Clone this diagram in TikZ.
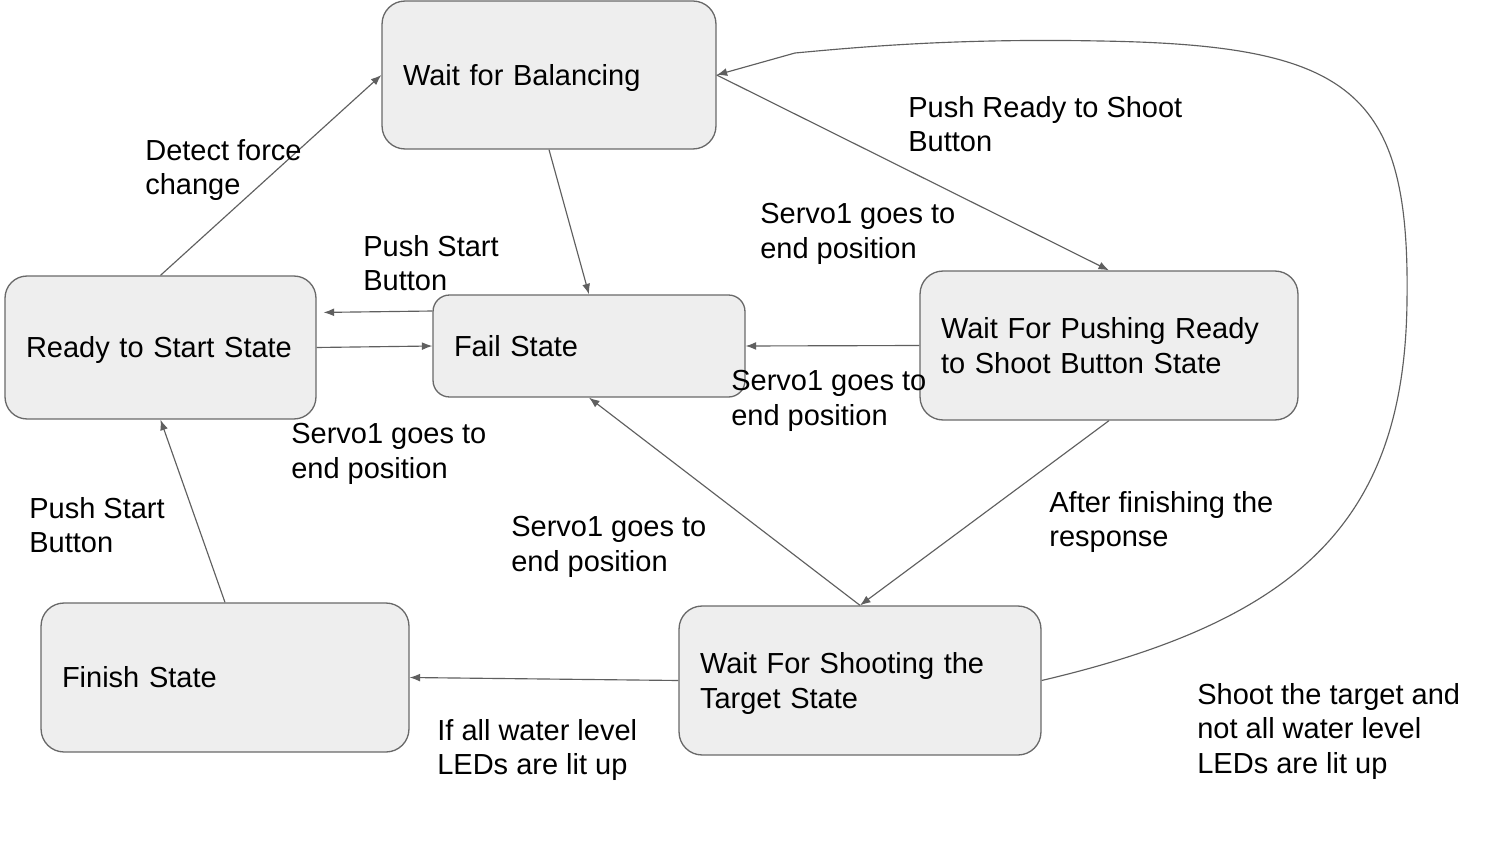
\documentclass[tikz,border=0pt]{standalone}
\usepackage{fontspec}
\setmainfont{Liberation Sans}
\usetikzlibrary{arrows.meta}
\definecolor{boxfill}{RGB}{238,238,238}
\definecolor{boxline}{RGB}{105,105,105}
\definecolor{arrline}{RGB}{95,95,95}
\newcommand\dfont{\fontsize{16.5pt}{19.6pt}\selectfont}
\newcommand\tstrut{\rule{0pt}{15.5pt}}
\newcommand\bstrut{\rule[-3.7pt]{0pt}{0pt}}
\begin{document}
\begin{tikzpicture}[x=0.02cm,y=-0.02cm,
  state/.style={draw=boxline,fill=boxfill,line width=0.75pt,align=left,inner xsep=0.42cm,inner ysep=0pt,font=\dfont},
  lab/.style={anchor=north west,inner sep=0pt,align=left,font=\dfont},
  arr/.style={draw=arrline,line width=0.65pt,-{Latex[length=6pt,width=4.5pt]}}]
\useasboundingbox (0,0) rectangle (1500,844);
\fill[white] (0,0) rectangle (1500,844);

\node[state,minimum width=6.68cm,minimum height=2.96cm,text width=5.84cm,rounded corners=0.46cm] (bal) at (549,75) {\tstrut Wait for Balancing\bstrut};
\node[state,minimum width=6.22cm,minimum height=2.86cm,text width=5.38cm,rounded corners=0.44cm] (ready) at (160.5,347.5) {\tstrut Ready to Start State\bstrut};
\node[state,minimum width=6.24cm,minimum height=2.04cm,text width=5.40cm,rounded corners=0.33cm] (fail) at (589,346) {\tstrut Fail State\bstrut};
\node[state,minimum width=7.56cm,minimum height=2.98cm,text width=6.72cm,rounded corners=0.46cm] (push) at (1109,345.5) {\tstrut Wait For Pushing Ready\\to Shoot Button State\bstrut};
\node[state,minimum width=7.36cm,minimum height=2.98cm,text width=6.52cm,rounded corners=0.46cm] (finish) at (225,677.5) {\tstrut Finish State\bstrut};
\node[state,minimum width=7.24cm,minimum height=2.98cm,text width=6.40cm,rounded corners=0.46cm] (shoot) at (860,680.5) {\tstrut Wait For Shooting the\\Target State\bstrut};

\draw[arr] (ready.north) -- (bal.west);
\draw[arr] (bal.south) -- (fail.north);
\draw[arr] (bal.east) -- (push.north);
\draw[arr,shorten >=0.14cm] ([yshift=0.7cm]fail.west) -- ([yshift=0.7cm]ready.east);
\draw[arr] (ready.east) -- (fail.west);
\draw[arr] (push.west) -- (fail.east);
\draw[arr] (push.south) -- (shoot.north);
\draw[arr] (shoot.north) -- (fail.south);
\draw[arr] (shoot.west) -- (finish.east);
\draw[arr] (finish.north) -- (ready.south);
\draw[arr] (shoot.east) .. controls (1300,620) and (1405,520) .. (1407,300)
  .. controls (1410,90) and (1350,45) .. (1100,41)
  .. controls (950,38) and (850,48) .. (795,53) -- (bal.east);

\node[lab] (l1) at (145,139) {Detect force\\change};
\node[lab] (l2) at (363,235) {Push Start\\Button};
\node[lab] (l3) at (908,96) {Push Ready to Shoot\\Button};
\node[lab] (l4) at (760,203) {Servo1 goes to\\end position};
\node[lab] (l5) at (731,370) {Servo1 goes to\\end position};
\node[lab] (l6) at (291,423) {Servo1 goes to\\end position};
\node[lab] (l7) at (29,497) {Push Start\\Button};
\node[lab] (l8) at (511,516) {Servo1 goes to\\end position};
\node[lab] (l9) at (1049,491) {After finishing the\\response};
\node[lab] (l10) at (437,719) {If all water level\\LEDs are lit up};
\node[lab] (l11) at (1197,683) {Shoot the target and\\not all water level\\LEDs are lit up};
\end{tikzpicture}
\end{document}
